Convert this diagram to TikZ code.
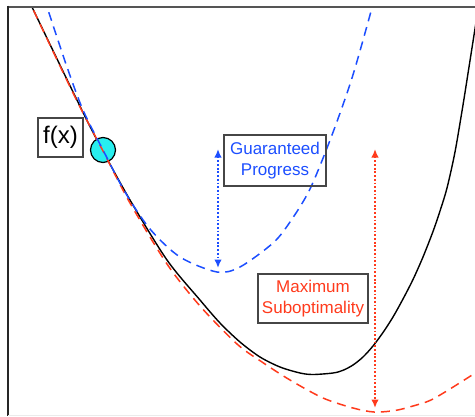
\documentclass[tikz,border=0pt]{standalone}
\usepackage{fontspec}
\setmainfont{Liberation Sans}
\usetikzlibrary{arrows.meta}
\definecolor{gblue}{RGB}{28,78,255}
\definecolor{mred}{RGB}{255,58,28}
\definecolor{dotcyan}{RGB}{40,238,238}
\definecolor{framegray}{RGB}{85,85,85}
\definecolor{boxgray}{RGB}{70,70,70}
\begin{document}
\begin{tikzpicture}[x=1pt,y=-1pt,
  fcurve/.style={black,line width=1.4pt},
  ubound/.style={gblue,line width=1.5pt,dash pattern=on 9pt off 6pt},
  lbound/.style={mred,line width=1.5pt,dash pattern=on 9pt off 6pt},
  gaparrow/.style={line width=2.1pt,dash pattern=on 1.8pt off 1.9pt,
    {Latex[length=8.5pt,width=7.5pt]}-{Latex[length=8.5pt,width=7.5pt]}},
  labelbox/.style={draw=boxgray,line width=1.2pt,align=center,inner sep=0pt,
    font=\fontsize{17}{20.5}\selectfont},
  iterate/.style={circle,draw=black,line width=1.2pt,fill=dotcyan,
    minimum size=25pt,inner sep=0pt},
]
\useasboundingbox (0,0) rectangle (475,416);
\begin{scope}
\clip (8,7) rectangle (475,416);
% true function
\draw[fcurve] plot[smooth] coordinates {(28,-2) (32,7) (75,96) (97,140) (130,200)
  (167,260) (200,300) (220,323) (240,342) (260,357) (280,367) (300,373) (313,374.5)
  (333,373) (343,370.3) (353,365) (363,357) (373,346) (383,332.5) (393,317)
  (403,299) (413,279.5) (423,257) (433,231.5) (440,211) (447,188) (455,152)
  (463,105) (469,67) (477,16)};
% current iterate
\node[iterate] (xk) at (103,150) {};
% lower bound (red)
\draw[lbound] plot[smooth] coordinates {(30,0) (32,7) (75,97) (103,151) (130,203)
  (167,264) (200,306) (237,344) (262,362) (290,380) (323,398) (353,408) (374,412)
  (395,410.5) (413,406) (433,399) (469,377) (480,369)};
% upper bound (blue)
\draw[ubound] plot[smooth] coordinates {(44,-2) (47,7) (67,67) (83,110) (103,150)
  (125,192) (150,229) (180,257) (217,272) (240,267) (273,243) (290,222) (310,189)
  (332,135) (352,78) (370,15) (373,2)};
\end{scope}
% frame
\draw[framegray,line width=2pt] (7,6.5) -- (475,6.5);
\draw[black!85,line width=2pt] (8,5.5) -- (8,416);
\draw[black!8,line width=1pt] (8,415.5) -- (475,415.5);
% labels
\node[labelbox,minimum width=45pt,minimum height=39pt,
  font=\fontsize{24}{28}\selectfont] (fx) at (60.5,137.5) {f(x)};
\node[labelbox,text=gblue,minimum width=102pt,minimum height=51pt]
  (gp) at (275,160.5) {Guaranteed\\Progress};
\node[labelbox,text=mred,minimum width=110pt,minimum height=49pt]
  (ms) at (313,298.5) {Maximum\\Suboptimality};
% gap arrows
\coordinate (gptop) at (218,149);
\coordinate (gpbot) at (218,268);
\coordinate (mstop) at (375,149);
\coordinate (msbot) at (375,408);
\draw[gaparrow,gblue] (gptop) -- (gpbot);
\draw[gaparrow,mred] (mstop) -- (msbot);
\end{tikzpicture}
\end{document}
